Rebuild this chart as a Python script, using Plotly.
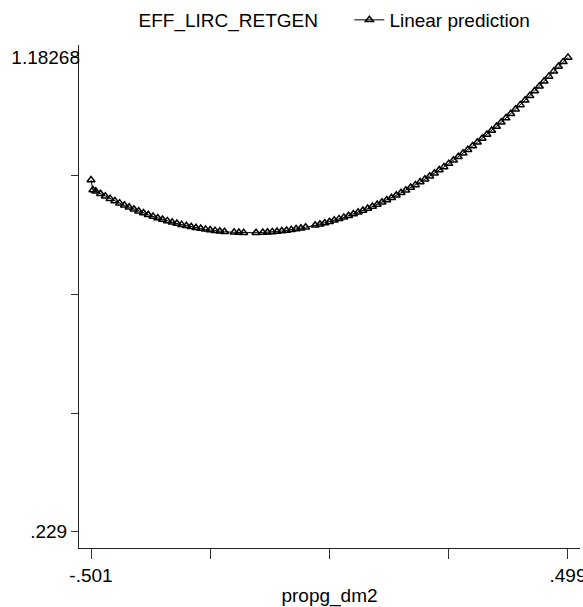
import plotly.graph_objects as go

# ---- data ----
propg_dm2 = [
    -0.501, -0.497,
    -0.491, -0.481, -0.471, -0.461, -0.451, -0.441, -0.431, -0.421, -0.411, -0.401,
    -0.391, -0.381, -0.371, -0.361, -0.351, -0.341, -0.331, -0.321, -0.311, -0.301,
    -0.291, -0.281, -0.271, -0.261, -0.251, -0.241, -0.231, -0.221,
    -0.201, -0.191, -0.181,
    -0.155,
    -0.141, -0.131, -0.121, -0.111, -0.101, -0.091, -0.081, -0.071, -0.061, -0.051,
    -0.031, -0.021, -0.011, -0.001, 0.009, 0.019, 0.029, 0.039, 0.049, 0.059,
    0.069, 0.079, 0.089, 0.099, 0.109, 0.119, 0.129, 0.139, 0.149, 0.159,
    0.169, 0.179, 0.189, 0.199, 0.209, 0.219, 0.229, 0.239, 0.249, 0.259,
    0.269, 0.279, 0.289, 0.299, 0.309, 0.319, 0.329, 0.339, 0.349, 0.359,
    0.369, 0.379, 0.389, 0.399, 0.409, 0.419, 0.429, 0.439, 0.449, 0.459,
    0.469, 0.479, 0.489, 0.499,
]
linear_prediction = [
    0.9360, 0.9160,
    0.9135, 0.9084, 0.9034, 0.8987, 0.8941, 0.8896, 0.8853, 0.8812, 0.8772, 0.8734,
    0.8698, 0.8663, 0.8630, 0.8598, 0.8568, 0.8539, 0.8513, 0.8487, 0.8464, 0.8442,
    0.8421, 0.8402, 0.8385, 0.8369, 0.8355, 0.8343, 0.8332, 0.8322,
    0.8309, 0.8304, 0.8301,
    0.8301,
    0.8306, 0.8311, 0.8318, 0.8326, 0.8336, 0.8347, 0.8361, 0.8375, 0.8392, 0.8410,
    0.8450, 0.8473, 0.8497, 0.8523, 0.8551, 0.8580, 0.8610, 0.8643, 0.8677, 0.8712,
    0.8749, 0.8788, 0.8828, 0.8870, 0.8914, 0.8959, 0.9006, 0.9054, 0.9104, 0.9155,
    0.9209, 0.9263, 0.9320, 0.9378, 0.9437, 0.9498, 0.9561, 0.9625, 0.9691, 0.9759,
    0.9828, 0.9899, 0.9971, 1.0045, 1.0120, 1.0197, 1.0276, 1.0356, 1.0438, 1.0522,
    1.0607, 1.0694, 1.0782, 1.0872, 1.0963, 1.1057, 1.1151, 1.1248, 1.1346, 1.1445,
    1.1546, 1.1645, 1.1737, 1.1827,
]
assert len(propg_dm2) == len(linear_prediction)

x_tickvals = [-0.501, -0.251, -0.001, 0.249, 0.499]
x_ticktext = ["-.501", "", "", "", ".499"]
y_tickvals = [0.229, 0.46742, 0.70584, 0.94426, 1.18268]
y_ticktext = [".229", "", "", "", ""]
y_top_val = [1.18268]
y_top_text = ["1.18268"]

FONT = "Liberation Sans, Arial, sans-serif"
W, H = 583, 607
Y_RANGE = [0.1962, 1.2076]

fig = go.Figure()
fig.add_trace(go.Scatter(
    x=[None], y=[None], mode="markers", name="EFF_LIRC_RETGEN" + "\u00a0" * 5,
    marker=dict(color="rgba(0,0,0,0)", size=1),
))
fig.add_trace(go.Scatter(
    x=propg_dm2, y=linear_prediction, mode="lines+markers", name="Linear prediction",
    line=dict(color="black", width=1),
    marker=dict(symbol="triangle-up-open", size=7, color="black", line=dict(width=1.5, color="black")),
))
# helper (empty) trace so the overlaid label axis is drawn
fig.add_trace(go.Scatter(x=[None], y=[None], yaxis="y2", showlegend=False, hoverinfo="skip"))

fig.update_layout(
    width=W, height=H,
    margin=dict(l=79, r=3, t=45, b=59),
    paper_bgcolor="white", plot_bgcolor="white",
    font=dict(family=FONT, size=19, color="black"),
    showlegend=True,
    legend=dict(
        orientation="h", x=19.5 / 501, xanchor="left",
        y=1 - 20 / H, yref="container", yanchor="middle",
        font=dict(size=19), itemwidth=30, tracegroupgap=0,
        bgcolor="rgba(0,0,0,0)",
    ),
    xaxis=dict(
        range=[-0.5262, 0.5242], tickmode="array", tickvals=x_tickvals, ticktext=x_ticktext,
        ticks="outside", ticklen=10, tickcolor="#333", tickwidth=1,
        showline=True, linecolor="#222", linewidth=1, showgrid=False, zeroline=False,
        title=dict(text="propg_dm2", font=dict(size=19), standoff=4),
        tickfont=dict(size=19), automargin=False, ticklabeloverflow="allow",
    ),
    yaxis=dict(
        range=Y_RANGE, tickmode="array", tickvals=y_tickvals, ticktext=y_ticktext,
        ticks="outside", ticklen=7, tickcolor="#333", tickwidth=1,
        showline=True, linecolor="#222", linewidth=1, showgrid=False, zeroline=False,
        tickfont=dict(size=19), ticklabelstandoff=0, automargin=False,
        ticklabeloverflow="allow",
    ),
    yaxis2=dict(
        overlaying="y", side="left", range=Y_RANGE, tickmode="array",
        tickvals=y_top_val, ticktext=y_top_text, ticks="",
        showline=False, showgrid=False, zeroline=False,
        tickfont=dict(size=19), ticklabelstandoff=-2, automargin=False,
        ticklabeloverflow="allow",
    ),
)

fig.write_html(
    "out.html",
    config={"displayModeBar": False},
    post_script="document.body.style.margin='0px';",
)
